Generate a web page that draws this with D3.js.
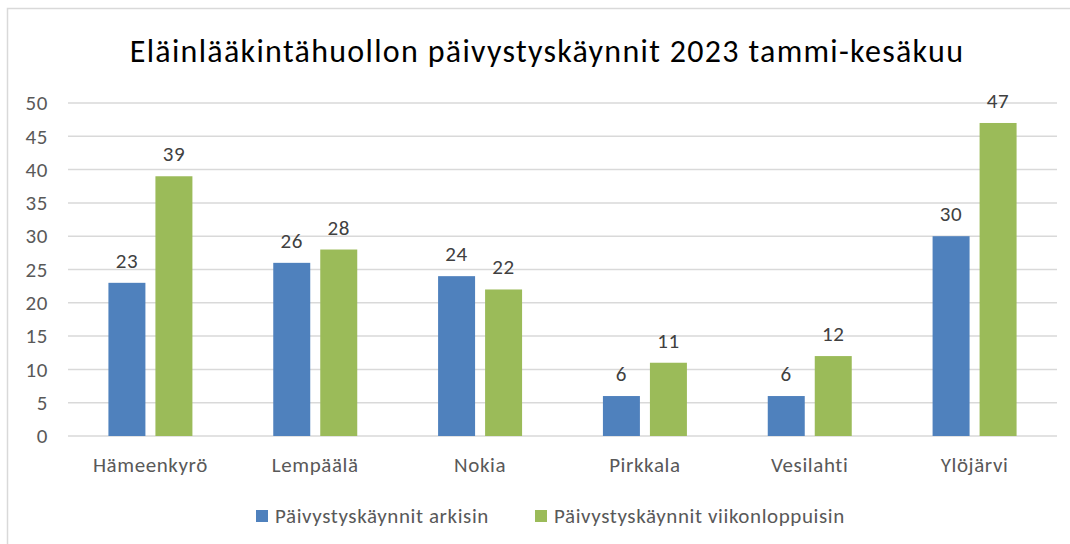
<!DOCTYPE html>
<html>
<head>
<meta charset="utf-8">
<script src="https://cdn.jsdelivr.net/npm/d3@7"></script>
<style>
  body { margin: 0; background: #fff; }
  text { font-family: Calibri, Carlito, Lato, "Open Sans", sans-serif; }
</style>
</head>
<body>
<div id="chart"></div>
<script>
var width = 1070, height = 544;
var margin = { top: 103, right: 13, bottom: 108, left: 68 };

var categories = ["Hämeenkyrö", "Lempäälä", "Nokia", "Pirkkala", "Vesilahti", "Ylöjärvi"];
var seriesNames = ["Päivystyskäynnit arkisin", "Päivystyskäynnit viikonloppuisin"];
var arkisin = [23, 26, 24, 6, 6, 30];
var viikonloppuisin = [39, 28, 22, 11, 12, 47];
var yTicks = [0, 5, 10, 15, 20, 25, 30, 35, 40, 45, 50];
var colors = ["#4f81bd", "#9bbb59"];

var rows = categories.map(function (c, i) {
    return { cat: c, values: [arkisin[i], viikonloppuisin[i]] };
});

var svg = d3.select("#chart")
    .append("svg")
    .attr("width", width)
    .attr("height", height);

// frame (image is cropped on the right and bottom)
svg.append("rect")
    .attr("x", 7.5).attr("y", 8.5)
    .attr("width", width + 20).attr("height", height + 20)
    .attr("fill", "none")
    .attr("stroke", "#d9d9d9")
    .attr("stroke-width", 1.5);

var x0 = d3.scaleBand()
    .domain(categories)
    .range([margin.left, width - margin.right]);

var x1 = d3.scaleBand()
    .domain([0, 1])
    .range([0, x0.bandwidth()])
    .paddingInner(0.213)
    .paddingOuter(0.86);

var y = d3.scaleLinear()
    .domain([0, 50])
    .range([height - margin.bottom, margin.top]);

// gridlines
svg.append("g")
    .selectAll("line")
    .data(yTicks)
    .enter()
    .append("line")
    .attr("x1", margin.left)
    .attr("x2", width - margin.right)
    .attr("y1", function (d) { return y(d) })
    .attr("y2", function (d) { return y(d) })
    .attr("stroke", "#d9d9d9")
    .attr("stroke-width", 1.5);

// y axis labels
var yAxis = svg.append("g")
    .attr("transform", "translate(" + margin.left + ",0)")
    .call(d3.axisLeft(y).tickValues(yTicks).tickSize(0).tickPadding(20));
yAxis.select(".domain").remove();
yAxis.selectAll("text")
    .attr("fill", "#595959")
    .style("font-family", null)
    .attr("font-family", null)
    .style("font-size", "21px")
    .style("letter-spacing", "0.6px");

// title
svg.append("text")
    .attr("x", 547)
    .attr("y", 62)
    .attr("text-anchor", "middle")
    .attr("fill", "#000")
    .style("font-size", "32px")
    .style("letter-spacing", "1.3px")
    .text("Eläinlääkintähuollon päivystyskäynnit 2023 tammi-kesäkuu");

// bars
var groups = svg.append("g")
    .selectAll("g")
    .data(rows)
    .enter()
    .append("g")
    .attr("transform", function (d) { return "translate(" + x0(d.cat) + ",0)" });

groups.selectAll("rect")
    .data(function (d) { return d.values })
    .enter()
    .append("rect")
    .attr("x", function (d, i) { return x1(i) })
    .attr("width", x1.bandwidth())
    .attr("y", function (d) { return y(d) })
    .attr("height", function (d) { return y(0) - y(d) })
    .attr("fill", function (d, i) { return colors[i] });

// value labels
groups.selectAll("text")
    .data(function (d) { return d.values })
    .enter()
    .append("text")
    .attr("x", function (d, i) { return x1(i) + x1.bandwidth() / 2 })
    .attr("y", function (d) { return y(d) - 15 })
    .attr("text-anchor", "middle")
    .attr("fill", "#404040")
    .style("font-size", "21px")
    .style("letter-spacing", "0.6px")
    .text(function (d) { return d });

// category labels
svg.append("g")
    .selectAll("text")
    .data(categories)
    .enter()
    .append("text")
    .attr("x", function (d) { return x0(d) + x0.bandwidth() / 2 })
    .attr("y", 472)
    .attr("text-anchor", "middle")
    .attr("fill", "#595959")
    .style("font-size", "21px")
    .style("letter-spacing", "0.6px")
    .text(function (d) { return d });

// legend
var legendX = [256, 535];
var legend = svg.append("g")
    .selectAll("g")
    .data(seriesNames)
    .enter()
    .append("g")
    .attr("transform", function (d, i) { return "translate(" + legendX[i] + ",510)" });

legend.append("rect")
    .attr("width", 12)
    .attr("height", 12)
    .attr("fill", function (d, i) { return colors[i] });

legend.append("text")
    .attr("x", 19)
    .attr("y", 13)
    .attr("fill", "#595959")
    .style("font-size", "21px")
    .style("letter-spacing", "0.6px")
    .text(function (d) { return d });
</script>
</body>
</html>
